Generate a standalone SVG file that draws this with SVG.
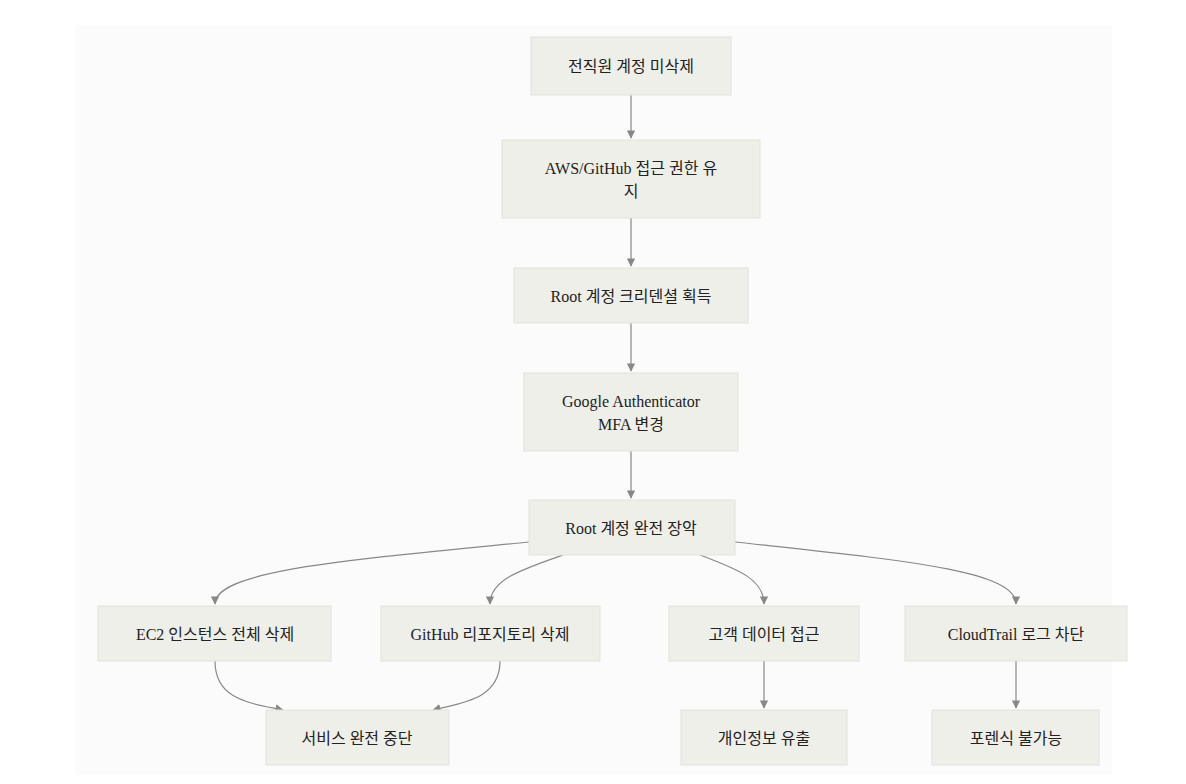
<svg xmlns="http://www.w3.org/2000/svg" width="1186" height="784" viewBox="0 0 1186 784">
<style>
.n rect{fill:#efefea;stroke:#e2e2dc;stroke-width:1}
.n text{font-family:"Liberation Serif","Noto Sans CJK KR",serif;font-size:16px;fill:#222;text-anchor:middle}
.e path{fill:none;stroke:#888;stroke-width:1.2;marker-end:url(#a)}
</style>
<defs><marker id="a" viewBox="0 0 10 10" refX="9" refY="5" markerWidth="7" markerHeight="7" orient="auto"><path d="M0,0L10,5L0,10z" fill="#888"/></marker></defs>
<rect width="1186" height="784" fill="#fff"/>
<rect x="75" y="25" width="1037" height="750" fill="#fbfbfb"/>
<g class="e">
<path d="M631,95V138"/>
<path d="M631,218V266"/>
<path d="M631,323V371"/>
<path d="M631,451V498"/>
<path d="M529,542C350,560 215,570 215,604"/>
<path d="M563,555C520,570 490,580 490,604"/>
<path d="M700,555C740,570 764,580 764,604"/>
<path d="M735,542C900,560 1016,570 1016,604"/>
<path d="M215,661C215,700 250,703 283,710"/>
<path d="M500,661C500,700 460,703 433,710"/>
<path d="M764,661V708"/>
<path d="M1016,661V708"/>
</g>
<g id="n1" class="n"><rect x="531" y="37" width="200" height="58"/><text x="631" y="72">전직원 계정 미삭제</text></g>
<g id="n2" class="n"><rect x="502" y="140" width="258" height="78"/><text x="631" y="174">AWS/GitHub 접근 권한 유</text><text x="631" y="197">지</text></g>
<g id="n3" class="n"><rect x="514" y="268" width="234" height="55"/><text x="631" y="302">Root 계정 크리덴셜 획득</text></g>
<g id="n4" class="n"><rect x="524" y="373" width="214" height="78"/><text x="631" y="407">Google Authenticator</text><text x="631" y="430">MFA 변경</text></g>
<g id="n5" class="n"><rect x="529" y="500" width="206" height="55"/><text x="631" y="534">Root 계정 완전 장악</text></g>
<g id="n6" class="n"><rect x="98" y="606" width="233" height="55"/><text x="215" y="640">EC2 인스턴스 전체 삭제</text></g>
<g id="n7" class="n"><rect x="381" y="606" width="219" height="55"/><text x="490" y="640">GitHub 리포지토리 삭제</text></g>
<g id="n8" class="n"><rect x="669" y="606" width="190" height="55"/><text x="764" y="640">고객 데이터 접근</text></g>
<g id="n9" class="n"><rect x="905" y="606" width="222" height="55"/><text x="1016" y="640">CloudTrail 로그 차단</text></g>
<g id="n10" class="n"><rect x="266" y="710" width="183" height="55"/><text x="357" y="744">서비스 완전 중단</text></g>
<g id="n11" class="n"><rect x="681" y="710" width="166" height="55"/><text x="764" y="744">개인정보 유출</text></g>
<g id="n12" class="n"><rect x="932" y="710" width="167" height="55"/><text x="1016" y="744">포렌식 불가능</text></g>
</svg>
